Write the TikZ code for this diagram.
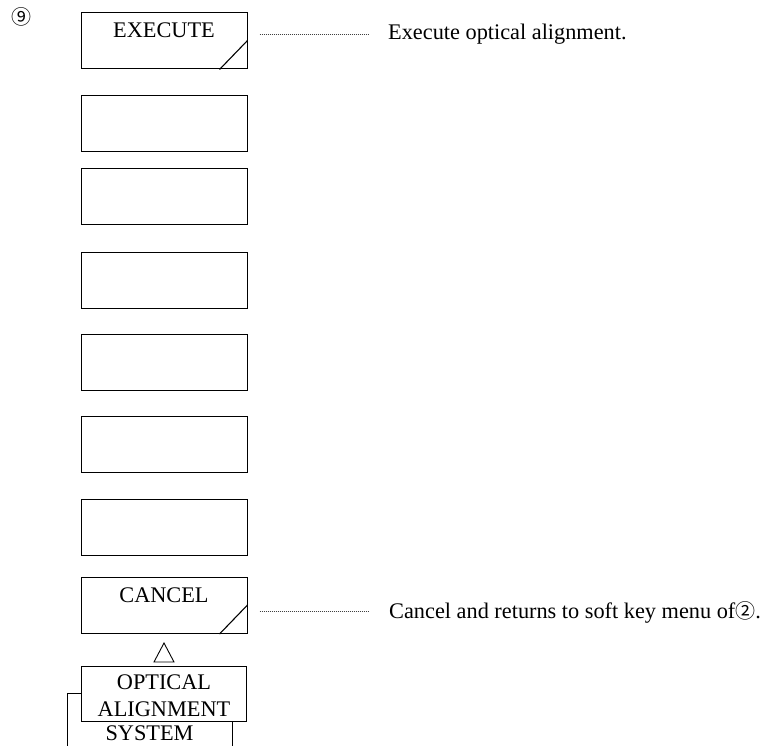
\documentclass[tikz,border=0pt]{standalone}
\usepackage{fontspec}
\setmainfont{Liberation Serif}
\newfontfamily\symfont{Noto Sans CJK JP}
\begin{document}
\begin{tikzpicture}[x=1pt,y=-1pt,
  keybox/.style={draw,line width=1pt,minimum width=166pt,minimum height=56pt,inner sep=0pt,fill=white},
  keytext/.style={anchor=base,inner sep=0pt,font=\fontsize{22.3}{27}\selectfont},
  desc/.style={anchor=base west,inner sep=0pt,font=\fontsize{22.3}{27}\selectfont},
  dotline/.style={densely dotted,line width=1pt,black!75},
  slash/.style={line width=1.1pt}]
\useasboundingbox (0,0) rectangle (771,746);
\clip (0,0) rectangle (771,746);
% circled number
\node[inner sep=0pt,font=\symfont\fontsize{20}{20}\selectfont] (num) at (21,17) {⑨};
% soft keys
\node[keybox] (b1) at (164,41) {};
\node[keybox] (b2) at (164,123.5) {};
\node[keybox] (b3) at (164,197) {};
\node[keybox] (b4) at (164,280) {};
\node[keybox] (b5) at (164,362) {};
\node[keybox] (b6) at (164,444.5) {};
\node[keybox] (b7) at (164,527) {};
\node[keybox] (b8) at (164,605.5) {};
\node[keytext] (l1) at (164,38) {EXECUTE};
\node[keytext] (l8) at (164,602) {CANCEL};
\draw[slash] ([yshift=-28pt]b1.north east) -- ([xshift=-28pt]b1.south east);
\draw[slash] ([yshift=-28pt]b8.north east) -- ([xshift=-28pt]b8.south east);
% descriptions
\node[desc] (t1) at (388,40) {Execute optical alignment.};
\node[desc] (t8) at (389,618) {Cancel and returns to soft key menu of{\symfont\fontsize{20}{20}\selectfont ②}.};
\draw[dotline] ([xshift=12pt]b1.east |- t1.west) -- ([xshift=-19pt]t1.west);
\draw[dotline] ([xshift=12pt]b8.east |- t8.west) -- ([xshift=-20pt]t8.west);
% triangle
\draw[line width=0.9pt] (164,643) -- (174,662) -- (154,662) -- cycle;
% menu stack
\node[draw,line width=1pt,minimum width=165pt,minimum height=80pt,inner sep=0pt,anchor=north west] (back) at (67,693) {};
\node[keytext] (sys) at (149.5,740) {SYSTEM};
\node[keybox,minimum width=165pt,minimum height=55pt] (menu) at (163.5,693.5) {};
\node[keytext] (m1) at (164,689) {OPTICAL};
\node[keytext] (m2) at (164,716) {ALIGNMENT};
\end{tikzpicture}
\end{document}
